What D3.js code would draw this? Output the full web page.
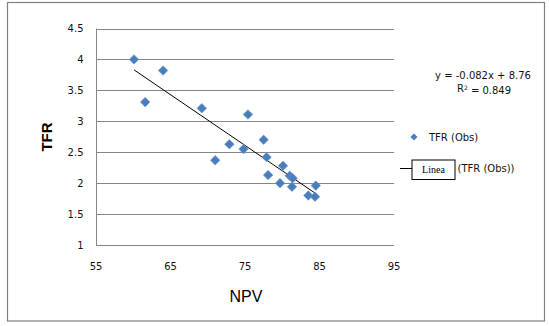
<!DOCTYPE html>
<html>
<head>
<meta charset="utf-8">
<script src="https://cdn.jsdelivr.net/npm/d3@7"></script>
<style>
  html, body { margin: 0; padding: 0; background: #fff; }
  svg { display: block; }
</style>
</head>
<body>
<svg id="chart" width="549" height="326"></svg>
<script>
// ---- data ----
const npv = [60.1, 61.6, 64.0, 69.2, 75.4, 71.0, 72.9, 74.8, 77.5, 77.9, 78.1, 80.1, 79.7, 81.0, 81.4, 81.3, 83.5, 84.4, 84.5];
const tfr = [4.00, 3.31, 3.82, 3.21, 3.11, 2.37, 2.63, 2.55, 2.70, 2.42, 2.13, 2.28, 2.00, 2.12, 2.08, 1.94, 1.80, 1.78, 1.96];
const xTicks = [55, 65, 75, 85, 95];
const yTicks = [1, 1.5, 2, 2.5, 3, 3.5, 4, 4.5];
const slope = -0.082;
const intercept = 8.76;
const equationText = "y = -0.082x + 8.76";
const r2Text = "0.849";
const seriesName = "TFR (Obs)";
const trendName = "(TFR (Obs))";
const xTitle = "NPV";
const yTitle = "TFR";

// ---- drawing ----
const svg = d3.select("#chart");
const font = "'DejaVu Sans', Verdana, sans-serif";
const grid = "#868686";
const blue = "#4A7EBB";

// outer border
svg.append("rect").attr("x", 7.5).attr("y", 2.5).attr("width", 537).attr("height", 318.5)
  .attr("fill", "#fff").attr("stroke", "#808080").attr("stroke-width", 1.2);

const x = d3.scaleLinear().domain([55, 95]).range([96, 394]);
const y = d3.scaleLinear().domain([1, 4.5]).range([245, 28.5]);

// gridlines
svg.append("g").selectAll("line").data(yTicks).join("line")
  .attr("x1", x(55)).attr("x2", x(95))
  .attr("y1", d => Math.round(y(d)) + 0.5).attr("y2", d => Math.round(y(d)) + 0.5)
  .attr("stroke", grid).attr("stroke-width", 1);

// y axis line
svg.append("line").attr("x1", x(55) + 0.5).attr("x2", x(55) + 0.5)
  .attr("y1", y(4.5)).attr("y2", y(1) + 0.5).attr("stroke", grid).attr("stroke-width", 1);

// y tick labels
svg.append("g").selectAll("text").data(yTicks).join("text")
  .attr("x", 83.5).attr("y", d => y(d)).attr("dy", "0.35em")
  .attr("text-anchor", "end").attr("font-family", font).attr("font-size", 10).attr("fill", "#111")
  .text(d => d3.format("~g")(d));

// x tick labels
svg.append("g").selectAll("text").data(xTicks).join("text")
  .attr("x", d => x(d)).attr("y", 266).attr("dy", "0.35em")
  .attr("text-anchor", "middle").attr("font-family", font).attr("font-size", 10).attr("fill", "#111")
  .text(d => d);

// axis titles
svg.append("text").attr("x", 246).attr("y", 296).attr("dy", "0.35em")
  .attr("text-anchor", "middle").attr("font-family", "'Liberation Sans', Arial, sans-serif")
  .attr("font-size", 16).attr("fill", "#000").text(xTitle);

svg.append("text").attr("transform", "translate(47,137) rotate(-90)").attr("dy", "0.35em")
  .attr("text-anchor", "middle").attr("font-family", "'Liberation Sans', Arial, sans-serif")
  .attr("font-weight", "bold").attr("font-size", 15).attr("fill", "#000").text(yTitle);

// trend line
const xMin = d3.min(npv), xMax = d3.max(npv);
svg.append("line")
  .attr("x1", x(xMin)).attr("y1", y(intercept + slope * xMin))
  .attr("x2", x(xMax)).attr("y2", y(intercept + slope * xMax))
  .attr("stroke", "#000").attr("stroke-width", 1);

// markers
const diamond = d3.symbol().type(d3.symbolDiamond2).size(58);
const pts = npv.map((v, i) => ({ x: v, y: tfr[i] }));
svg.append("g").selectAll("path").data(pts).join("path")
  .attr("d", diamond)
  .attr("transform", d => `translate(${x(d.x)},${y(d.y)})`)
  .attr("fill", blue).attr("stroke", "#6C9AD2").attr("stroke-width", 0.6);

// equation
svg.append("text").attr("x", 483).attr("y", 75).attr("dy", "0.35em")
  .attr("text-anchor", "middle").attr("font-family", font).attr("font-size", 10).attr("fill", "#111")
  .text(equationText);
const r2 = svg.append("text").attr("x", 484).attr("y", 88.5).attr("dy", "0.35em")
  .attr("text-anchor", "middle").attr("font-family", font).attr("font-size", 10).attr("fill", "#111");
r2.append("tspan").text("R");
r2.append("tspan").attr("dy", "-0.4em").attr("font-size", 6).text("2");
r2.append("tspan").attr("dy", "0.4em").text(" = " + r2Text);

// legend: series
svg.append("path").attr("d", d3.symbol().type(d3.symbolDiamond2).size(32))
  .attr("transform", "translate(414,137)").attr("fill", blue);
svg.append("text").attr("x", 429).attr("y", 137).attr("dy", "0.35em")
  .attr("font-family", font).attr("font-size", 10).attr("fill", "#111").text(seriesName);

// legend: trendline
svg.append("line").attr("x1", 400).attr("x2", 412).attr("y1", 168.5).attr("y2", 168.5)
  .attr("stroke", "#000").attr("stroke-width", 1);
svg.append("rect").attr("x", 412).attr("y", 160).attr("width", 43).attr("height", 19.5)
  .attr("fill", "#fff").attr("stroke", "#000").attr("stroke-width", 1);
svg.append("text").attr("x", 433.5).attr("y", 169.5).attr("dy", "0.35em")
  .attr("text-anchor", "middle").attr("font-family", "'Liberation Serif', 'Times New Roman', serif")
  .attr("font-size", 10).attr("fill", "#000").text("Linea");
svg.append("text").attr("x", 457.5).attr("y", 168.5).attr("dy", "0.35em")
  .attr("font-family", font).attr("font-size", 10).attr("fill", "#111").text(trendName);
</script>
</body>
</html>
